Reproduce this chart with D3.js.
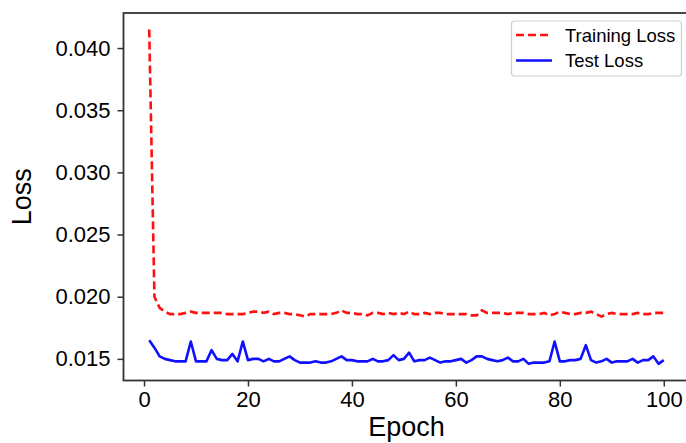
<!DOCTYPE html>
<html>
<head>
<meta charset="utf-8">
<script src="https://cdn.jsdelivr.net/npm/d3@7"></script>
<style>
  body { margin: 0; background: #fff; }
  svg { display: block; font-family: "Liberation Sans", Arial, sans-serif; }
</style>
</head>
<body>
<svg id="chart" width="686" height="443"></svg>
<script>
// epochs 1..100
const epochs = d3.range(1, 101);

const trainLoss = [
  0.0415, 0.0200, 0.0191, 0.0188, 0.0186, 0.0186, 0.0186, 0.0187, 0.0188, 0.0187,
  0.0187, 0.0187, 0.0187, 0.0187, 0.0187, 0.0186, 0.0186, 0.0186, 0.0186, 0.0187,
  0.0188, 0.0188, 0.0187, 0.0188, 0.0186, 0.0187, 0.0187, 0.0186, 0.0186, 0.0185,
  0.0184, 0.0186, 0.0186, 0.0186, 0.0186, 0.0186, 0.0187, 0.0189, 0.0187, 0.0187,
  0.0186, 0.0186, 0.0185, 0.0187, 0.0187, 0.0186, 0.0187, 0.0186, 0.0187, 0.0186,
  0.0188, 0.0186, 0.0186, 0.0187, 0.0186, 0.0187, 0.0187, 0.0186, 0.0186, 0.0186,
  0.0186, 0.0186, 0.0185, 0.0185, 0.0189, 0.0187, 0.0187, 0.0187, 0.0187, 0.0186,
  0.0187, 0.0187, 0.0187, 0.0186, 0.0186, 0.0186, 0.0187, 0.0185, 0.0186, 0.0188,
  0.0187, 0.0186, 0.0186, 0.0187, 0.0187, 0.0188, 0.0186, 0.0184, 0.0186, 0.0187,
  0.0186, 0.0186, 0.0186, 0.0186, 0.0187, 0.0186, 0.0186, 0.0187, 0.0187, 0.0187
];

const testLoss = [
  0.0165, 0.0159, 0.0152, 0.0150, 0.0149, 0.0148, 0.0148, 0.0148, 0.0164, 0.0148,
  0.0148, 0.0148, 0.0157, 0.0150, 0.0149, 0.0149, 0.0154, 0.0148, 0.0164, 0.0149,
  0.0150, 0.0150, 0.0148, 0.0150, 0.0148, 0.0148, 0.0150, 0.0152, 0.0149, 0.0147,
  0.0147, 0.0147, 0.0148, 0.0147, 0.0147, 0.0148, 0.0150, 0.0152, 0.0149, 0.0149,
  0.0148, 0.0148, 0.0148, 0.0150, 0.0148, 0.0148, 0.0149, 0.0153, 0.0149, 0.0150,
  0.0155, 0.0148, 0.0149, 0.0149, 0.0151, 0.0149, 0.0147, 0.0148, 0.0148, 0.0149,
  0.0150, 0.0147, 0.0149, 0.0152, 0.0152, 0.0150, 0.0149, 0.0148, 0.0149, 0.0151,
  0.0148, 0.0148, 0.0150, 0.0146, 0.0147, 0.0147, 0.0147, 0.0148, 0.0164, 0.0148,
  0.0148, 0.0149, 0.0149, 0.0150, 0.0161, 0.0149, 0.0147, 0.0148, 0.0150, 0.0147,
  0.0148, 0.0148, 0.0148, 0.0150, 0.0147, 0.0149, 0.0149, 0.0152, 0.0146, 0.0149
];

const xTicks = [0, 20, 40, 60, 80, 100];
const yTicks = [0.015, 0.020, 0.025, 0.030, 0.035, 0.040];

const svg = d3.select("#chart");
const plot = { left: 123.5, right: 689.5, top: 13, bottom: 380.5 };

const x = d3.scaleLinear().domain([-3.95, 104.95]).range([plot.left, plot.right]);
const y = d3.scaleLinear().domain([0.01326, 0.04282]).range([plot.bottom, plot.top]);

// lines
const line = d3.line().x((d, i) => x(epochs[i])).y(d => y(d));

svg.append("path")
  .datum(testLoss)
  .attr("d", line)
  .attr("fill", "none")
  .attr("stroke", "#1010ff")
  .attr("stroke-width", 2.6)
  .attr("stroke-linejoin", "round");

svg.append("path")
  .datum(trainLoss)
  .attr("d", line)
  .attr("fill", "none")
  .attr("stroke", "#ff1010")
  .attr("stroke-width", 2.6)
  .attr("stroke-dasharray", "8,4");

// axes
const xAxis = svg.append("g")
  .attr("transform", `translate(0,${plot.bottom})`)
  .call(d3.axisBottom(x).tickValues(xTicks).tickSize(6).tickPadding(5).tickFormat(d3.format("d")));

const yAxis = svg.append("g")
  .attr("transform", `translate(${plot.left},0)`)
  .call(d3.axisLeft(y).tickValues(yTicks).tickSize(6).tickPadding(7).tickFormat(d3.format(".3f")));

[xAxis, yAxis].forEach(g => {
  g.select(".domain").remove();
  g.selectAll("line").attr("stroke", "#333").attr("stroke-width", 1.5);
  g.selectAll("text").attr("fill", "#000").style("font-size", "22px")
    .style("font-family", "'Liberation Sans', Arial, sans-serif");
});

// frame
svg.append("rect")
  .attr("x", plot.left)
  .attr("y", plot.top)
  .attr("width", plot.right - plot.left)
  .attr("height", plot.bottom - plot.top)
  .attr("fill", "none")
  .attr("stroke", "#333")
  .attr("stroke-width", 1.8);

// axis labels
svg.append("text")
  .attr("x", (plot.left + plot.right) / 2)
  .attr("y", 436)
  .attr("text-anchor", "middle")
  .style("font-size", "27px")
  .text("Epoch");

svg.append("text")
  .attr("transform", `translate(31,${(plot.top + plot.bottom) / 2}) rotate(-90)`)
  .attr("text-anchor", "middle")
  .style("font-size", "27px")
  .text("Loss");

// legend
const legend = svg.append("g");
legend.append("rect")
  .attr("x", 511.5).attr("y", 21)
  .attr("width", 170).attr("height", 55)
  .attr("rx", 3)
  .attr("fill", "#fff")
  .attr("stroke", "#d0d0d0")
  .attr("stroke-width", 1.2);

const legendItems = [
  { label: "Training Loss", color: "#ff1010", dash: "8,4", y: 35 },
  { label: "Test Loss", color: "#1010ff", dash: null, y: 60.5 }
];

legendItems.forEach(d => {
  legend.append("line")
    .attr("x1", 516).attr("x2", 552)
    .attr("y1", d.y).attr("y2", d.y)
    .attr("stroke", d.color)
    .attr("stroke-width", 2.6)
    .attr("stroke-dasharray", d.dash);
  legend.append("text")
    .attr("x", 565)
    .attr("y", d.y + 6.5)
    .style("font-size", "18.5px")
    .text(d.label);
});
</script>
</body>
</html>
